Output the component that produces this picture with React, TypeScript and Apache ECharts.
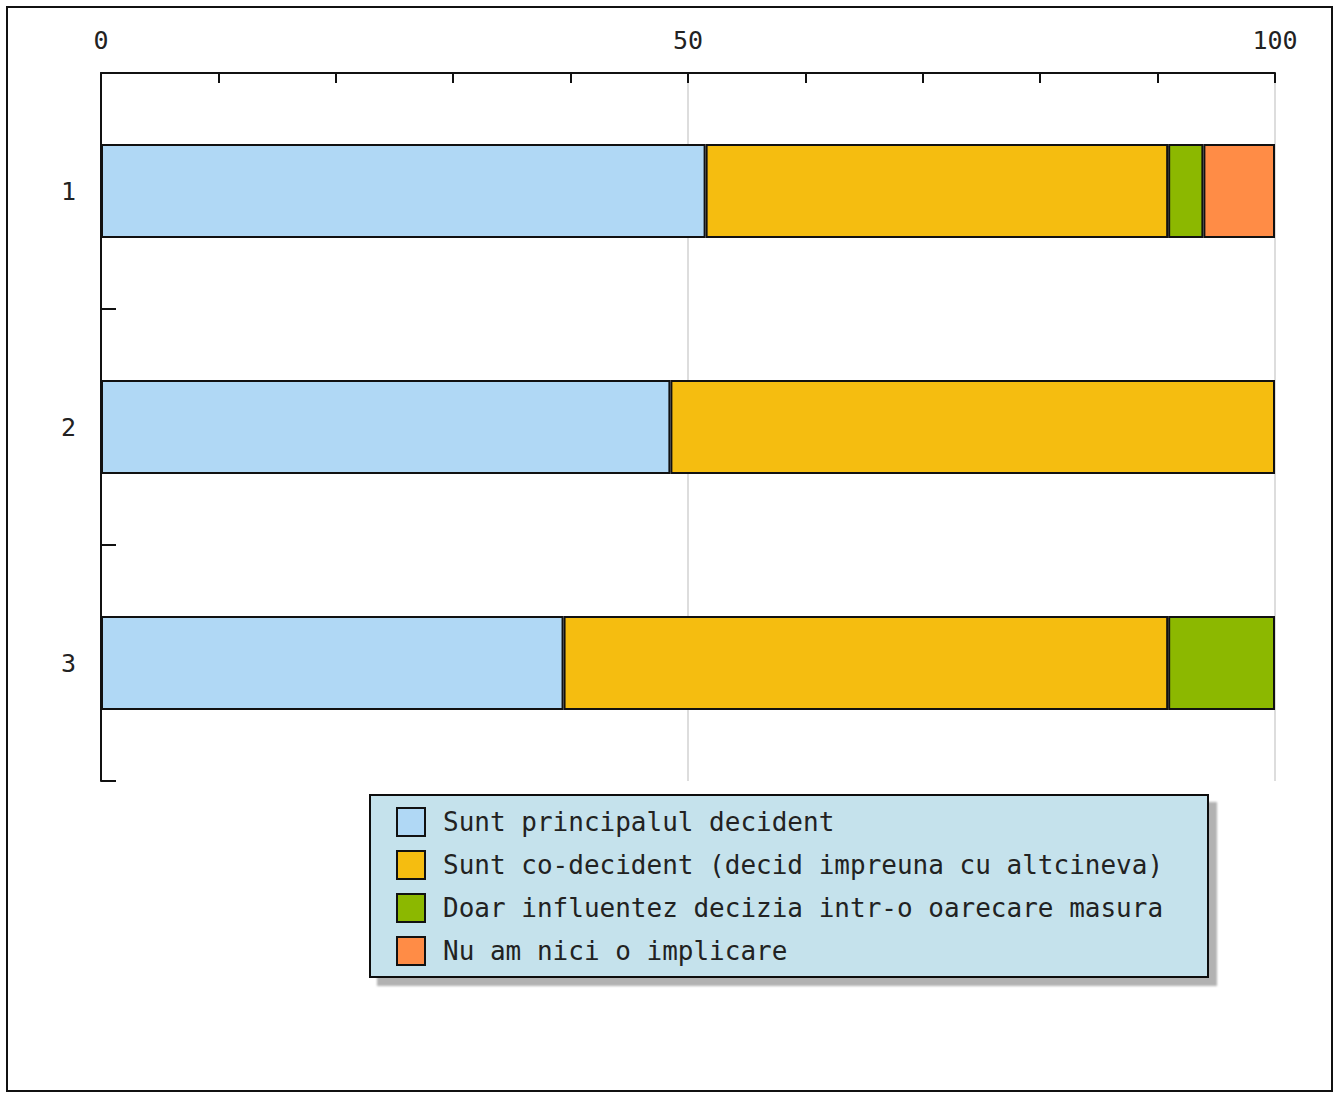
import React, { useEffect, useRef } from "react";
import * as echarts from "echarts";

const categories = ["1", "2", "3"];
const seriesNames = [
  "Sunt principalul decident",
  "Sunt co-decident (decid impreuna cu altcineva)",
  "Doar influentez decizia intr-o oarecare masura",
  "Nu am nici o implicare",
];
const principal = [51.5, 48.5, 39.4];
const coDecident = [39.4, 51.5, 51.5];
const influentez = [3.0, null, 9.1];
const niciImplicare = [6.1, null, null];
const colors = ["#b0d8f5", "#f5bd10", "#8cb800", "#ff8c46"];

const FONT = "DejaVu Sans Mono";

export default function App() {
  const ref = useRef<HTMLDivElement>(null);
  useEffect(() => {
    if (!ref.current) return;
    const chart = echarts.init(ref.current, null, { renderer: "svg" });
    const values = [principal, coDecident, influentez, niciImplicare];
    chart.setOption({
      animation: false,
      backgroundColor: "#ffffff",
      grid: { left: 101, top: 73, right: 59, bottom: 312, containLabel: false },
      xAxis: {
        type: "value",
        position: "top",
        min: 0,
        max: 100,
        interval: 50,
        axisLine: { show: true, lineStyle: { color: "#111", width: 2 } },
        axisTick: { show: true, inside: true, length: 10, lineStyle: { color: "#111", width: 2 } },
        minorTick: { show: true, splitNumber: 5, length: 10, lineStyle: { color: "#111", width: 2 } },
        axisLabel: { fontFamily: FONT, fontSize: 25, color: "#222", margin: 20 },
        splitLine: { show: true, lineStyle: { color: "#dddddd", width: 2 } },
      },
      yAxis: {
        type: "category",
        data: categories,
        inverse: true,
        axisLine: { show: true, lineStyle: { color: "#111", width: 2 } },
        axisTick: { show: true, inside: true, length: 15, lineStyle: { color: "#111", width: 2 } },
        axisLabel: { fontFamily: FONT, fontSize: 25, color: "#222", margin: 25 },
        splitLine: { show: false },
      },
      legend: {
        orient: "vertical",
        left: 370,
        top: 795,
        data: seriesNames,
        icon: "rect",
        itemWidth: 28,
        itemHeight: 28,
        itemGap: 13,
        padding: [12, 20, 11, 26],
        backgroundColor: "#c5e2ec",
        borderColor: "#111",
        borderWidth: 2,
        borderRadius: 0,
        shadowColor: "rgba(0,0,0,0.3)",
        shadowBlur: 2,
        shadowOffsetX: 8,
        shadowOffsetY: 8,
        selectedMode: false,
        z: 10,
        itemStyle: { borderColor: "#111", borderWidth: 2 },
        textStyle: {
          fontFamily: FONT,
          fontSize: 26,
          color: "#222",
          lineHeight: 28,
          padding: [0, 0, 0, 13],
          width: 745,
        },
      },
      graphic: [
        {
          type: "rect",
          shape: { x: 7, y: 7, width: 1325, height: 1084 },
          style: { fill: "none", stroke: "#111", lineWidth: 2 },
          silent: true,
          z: 100,
        },
      ],
      series: seriesNames.map((name, i) => ({
        name,
        type: "bar",
        stack: "total",
        barWidth: 94,
        data: values[i].map((v) => (v === null ? "-" : v)),
        itemStyle: { color: colors[i], borderColor: "#111", borderWidth: 2 },
      })),
    });
    return () => chart.dispose();
  }, []);
  return (
    <div
      ref={ref}
      style={{ position: "absolute", left: 0, top: 0, width: 1334, height: 1093 }}
    />
  );
}
